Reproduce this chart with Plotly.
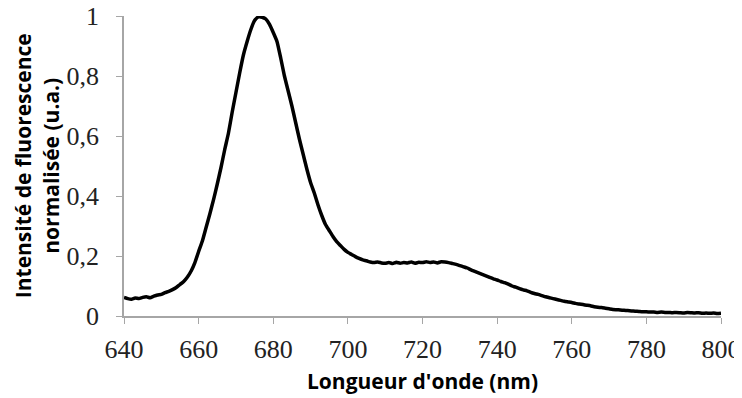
import plotly.graph_objects as go

# wavelength (nm), 1 nm steps
wavelength = list(range(640, 801))

# normalised fluorescence intensity
intensity = [
    0.062, 0.058, 0.056, 0.060, 0.058, 0.062, 0.064, 0.061, 0.066, 0.070,
    0.072, 0.078, 0.082, 0.088, 0.095, 0.105, 0.115, 0.130, 0.150, 0.178,
    0.215, 0.250, 0.295, 0.340, 0.388, 0.440, 0.495, 0.555, 0.610, 0.680,
    0.745, 0.810, 0.870, 0.915, 0.955, 0.985, 0.997, 0.996, 0.990, 0.972,
    0.945, 0.915, 0.860, 0.800, 0.750, 0.700, 0.645, 0.590, 0.540, 0.490,
    0.445, 0.410, 0.370, 0.335, 0.305, 0.285, 0.265, 0.248, 0.235, 0.222,
    0.212, 0.205, 0.198, 0.192, 0.187, 0.184, 0.180, 0.178, 0.180, 0.177,
    0.176, 0.178, 0.175, 0.179, 0.176, 0.178, 0.177, 0.180, 0.176, 0.179,
    0.178, 0.181, 0.178, 0.180, 0.177, 0.181, 0.180, 0.178, 0.175, 0.172,
    0.168, 0.164, 0.160, 0.154, 0.149, 0.144, 0.139, 0.134, 0.129, 0.124,
    0.120, 0.115, 0.111, 0.106, 0.100, 0.096, 0.091, 0.087, 0.084, 0.079,
    0.075, 0.072, 0.068, 0.064, 0.061, 0.058, 0.055, 0.052, 0.049, 0.047,
    0.045, 0.042, 0.040, 0.038, 0.036, 0.034, 0.031, 0.029, 0.028, 0.026,
    0.024, 0.022, 0.021, 0.020, 0.019, 0.018, 0.017, 0.016, 0.015, 0.014,
    0.014, 0.013, 0.013, 0.012, 0.013, 0.012, 0.012, 0.011, 0.012, 0.011,
    0.010, 0.012, 0.011, 0.010, 0.011, 0.009, 0.010, 0.009, 0.010, 0.008,
    0.009,
]

x_ticks = [640, 660, 680, 700, 720, 740, 760, 780, 800]
y_ticks = [0, 0.2, 0.4, 0.6, 0.8, 1]

x_title = "Longueur d'onde (nm)"
y_title = "Intensité de fluorescence<br>normalisée (u.a.)"

tick_font = dict(family="Liberation Serif", size=26, color="#222222")
title_font = dict(family="Open Sans", size=21, color="black", weight="bold")
axis_grey = "#a6a6a6"

fig = go.Figure(go.Scatter(
    x=wavelength,
    y=intensity,
    mode="lines",
    line=dict(color="black", width=3.5, shape="spline", smoothing=0.4),
    showlegend=False,
))

axis_style = dict(
    showgrid=False,
    zeroline=False,
    showline=True,
    linecolor=axis_grey,
    linewidth=1.5,
    ticks="outside",
    ticklen=6,
    tickcolor=axis_grey,
    tickfont=tick_font,
    ticklabeloverflow="allow",
    automargin=False,
)

# the page body adds an 8px margin, so margins are shifted by 8px
fig.update_layout(
    width=742,
    height=398,
    margin=dict(l=116, r=29, t=8, b=90),
    plot_bgcolor="white",
    paper_bgcolor="white",
    separators=", ",
    xaxis=dict(range=[640, 800], tickvals=x_ticks, ticklabelstandoff=3, **axis_style),
    yaxis=dict(range=[0, 1], tickvals=y_ticks, ticklabelstandoff=12, **axis_style),
    annotations=[
        dict(text=x_title, font=title_font, showarrow=False,
             xref="paper", yref="paper", x=0.5, y=-0.217,
             xanchor="center", yanchor="middle"),
        dict(text=y_title, font=title_font, showarrow=False, textangle=-90,
             xref="paper", yref="paper", x=-0.147, y=0.5,
             xanchor="center", yanchor="middle"),
    ],
)

fig.write_html("out.html")
